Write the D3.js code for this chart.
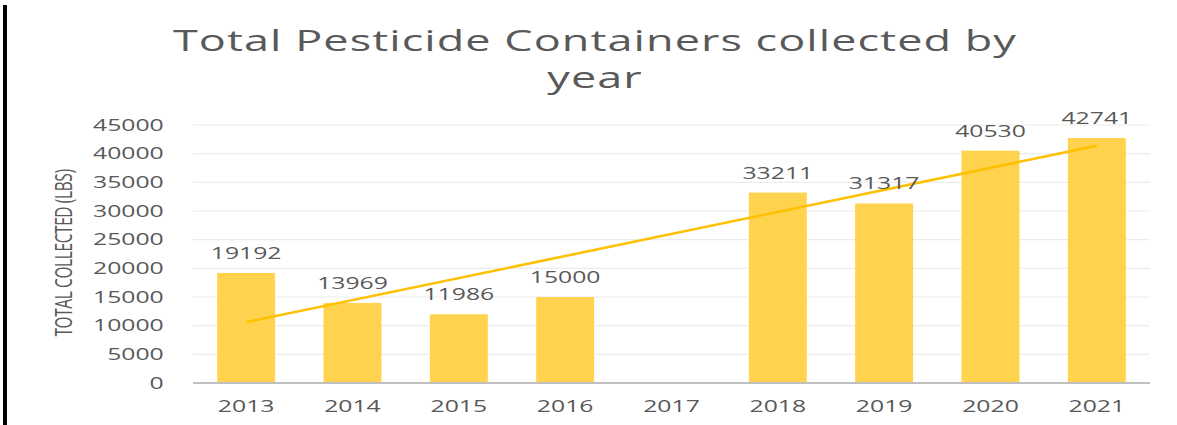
<!DOCTYPE html>
<html>
<head>
<meta charset="utf-8">
<script src="https://cdn.jsdelivr.net/npm/d3@7"></script>
<style>
  body { margin: 0; background: #fff; }
  text { font-family: "Open Sans", sans-serif; fill: #595959; }
</style>
</head>
<body>
<script>
var years = ['2013','2014','2015','2016','2017','2018','2019','2020','2021'];
var collected = [19192, 13969, 11986, 15000, null, 33211, 31317, 40530, 42741];
var yTicks = [0, 5000, 10000, 15000, 20000, 25000, 30000, 35000, 40000, 45000];
var titleLines = ['Total Pesticide Containers collected by', 'year'];
var yTitle = 'TOTAL COLLECTED (LBS)';

// the picture is stretched sideways, so draw narrow and scale x
var sx = 1.5;
var width = 1177;
var height = 425;
var innerW = width / sx;
var margin = {top: 125, left: 193 / sx, right: innerW - 1150 / sx, bottom: height - 383};

var svg = d3.select("body").append("svg")
  .attr("width", width)
  .attr("height", height);

var root = svg.append("g")
  .attr("transform", "scale(" + sx + ",1)");

// black edge on the left
root.append("rect")
  .attr("x", 3 / sx).attr("y", 5)
  .attr("width", 4 / sx).attr("height", height - 5)
  .attr("fill", "#000");

var x = d3.scaleBand()
  .domain(years)
  .range([margin.left, innerW - margin.right])
  .paddingInner(0.455)
  .paddingOuter(0.2275);

var y = d3.scaleLinear()
  .domain([0, 45000])
  .range([height - margin.bottom, margin.top]);

// gridlines
root.append("g")
  .selectAll("line")
  .data(yTicks.slice(1))
  .enter().append("line")
  .attr("x1", margin.left).attr("x2", innerW - margin.right)
  .attr("y1", function(d) { return y(d); })
  .attr("y2", function(d) { return y(d); })
  .attr("stroke", "#ececec")
  .attr("stroke-width", 1.2);

// y tick labels
root.append("g")
  .selectAll("text")
  .data(yTicks)
  .enter().append("text")
  .attr("x", margin.left - 19.5)
  .attr("y", function(d) { return y(d); })
  .attr("dy", "0.35em")
  .attr("text-anchor", "end")
  .attr("font-size", 16.5)
  .text(function(d) { return d; });

// bars
var pts = years.map(function(yr, i) { return {year: yr, value: collected[i]}; })
  .filter(function(d) { return d.value != null; });

root.append("g")
  .selectAll("rect")
  .data(pts)
  .enter().append("rect")
  .attr("x", function(d) { return x(d.year); })
  .attr("width", x.bandwidth())
  .attr("y", function(d) { return y(d.value); })
  .attr("height", function(d) { return y(0) - y(d.value); })
  .attr("fill", "#ffd34d");

// x axis line
root.append("line")
  .attr("x1", margin.left).attr("x2", innerW - margin.right)
  .attr("y1", y(0)).attr("y2", y(0))
  .attr("stroke", "#bfbfbf")
  .attr("stroke-width", 2);

// x labels
root.append("g")
  .selectAll("text")
  .data(years)
  .enter().append("text")
  .attr("x", function(d) { return x(d) + x.bandwidth() / 2; })
  .attr("y", y(0) + 29)
  .attr("text-anchor", "middle")
  .attr("font-size", 16.5)
  .text(function(d) { return d; });

// linear trend over the years that have data (x = year position)
var idx = pts.map(function(d) { return years.indexOf(d.year) + 1; });
var mx = d3.mean(idx), my = d3.mean(pts, function(d) { return d.value; });
var sxy = 0, sxx = 0;
pts.forEach(function(d, i) { sxy += (idx[i] - mx) * (d.value - my); sxx += (idx[i] - mx) * (idx[i] - mx); });
var slope = sxy / sxx;
var trend = [years[0], years[years.length - 1]].map(function(yr) {
  var t = years.indexOf(yr) + 1;
  return {year: yr, value: my + slope * (t - mx)};
});

root.append("path")
  .datum(trend)
  .attr("fill", "none")
  .attr("stroke", "#ffc000")
  .attr("stroke-width", 2.5)
  .attr("d", d3.line()
    .x(function(d) { return x(d.year) + x.bandwidth() / 2; })
    .y(function(d) { return y(d.value); }));

// value labels
root.append("g")
  .selectAll("text")
  .data(pts)
  .enter().append("text")
  .attr("x", function(d) { return x(d.year) + x.bandwidth() / 2; })
  .attr("y", function(d) { return y(d.value) - 14; })
  .attr("text-anchor", "middle")
  .attr("font-size", 16.5)
  .attr("fill", "#505050")
  .text(function(d) { return d.value; });

// title
root.append("g")
  .selectAll("text")
  .data(titleLines)
  .enter().append("text")
  .attr("x", 595 / sx)
  .attr("y", function(d, i) { return 51 + i * 37; })
  .attr("text-anchor", "middle")
  .attr("font-size", 30)
  .attr("letter-spacing", 0.7)
  .attr("fill", "#606060")
  .text(function(d) { return d; });

// y axis title
root.append("text")
  .attr("transform", "translate(" + (72 / sx) + "," + 253 + ") rotate(-90)")
  .attr("text-anchor", "middle")
  .attr("font-size", 15.5)
  .attr("letter-spacing", -0.4)
  .text(yTitle);
</script>
</body>
</html>
